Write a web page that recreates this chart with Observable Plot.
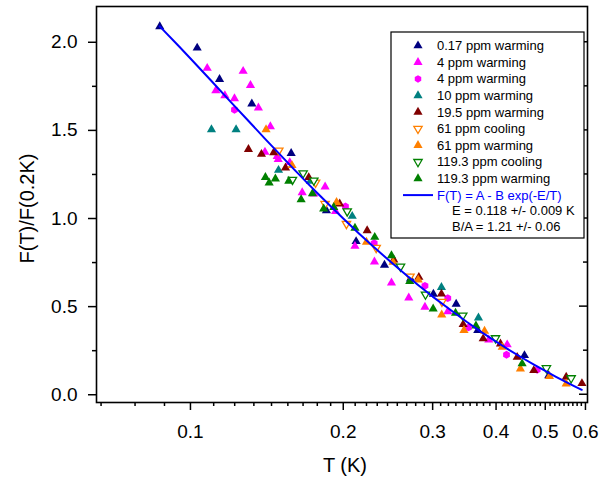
<!DOCTYPE html>
<html><head><meta charset="utf-8">
<script src="https://cdn.jsdelivr.net/npm/d3@7"></script>
<script src="https://cdn.jsdelivr.net/npm/@observablehq/plot@0.6"></script>
<style>
body{margin:0;background:#fff;}
#chart{position:relative;width:613px;height:477px;}
</style>
</head><body><div id="chart"></div>
<script>
// ---------- data (T in K, F(T)/F(0.2K)) ----------
const seriesNames = ["0.17 ppm warming","4 ppm warming","4 ppm warming","10 ppm warming","19.5 ppm warming","61 ppm cooling","61 ppm warming","119.3 ppm cooling","119.3 ppm warming"];

const s017warm = [[0.0870,2.089],[0.1031,1.968],[0.1141,1.790],[0.1321,1.651],[0.1579,1.370],[0.1853,1.045],[0.2120,0.870],[0.2411,0.736],[0.2713,0.658],[0.3010,0.571],[0.3338,0.515],[0.3681,0.365],[0.4550,0.223],[0.5080,0.109]];
const s4warmTri = [[0.1079,1.853],[0.1270,1.836],[0.1313,1.756],[0.1122,1.726],[0.1169,1.698],[0.1221,1.681],[0.1361,1.628],[0.1437,1.522],[0.1402,1.377],[0.1482,1.352],[0.1489,1.336],[0.1569,1.318],[0.1660,1.147],[0.1750,1.140],[0.1842,1.180],[0.1931,1.041],[0.2109,0.843],[0.2304,0.754],[0.2489,0.635],[0.2692,0.550],[0.2897,0.497],[0.3213,0.472],[0.3870,0.312],[0.4207,0.284]];
const s4warmHex = [[0.1221,1.617],[0.2020,1.068],[0.2301,0.860],[0.2897,0.618],[0.3213,0.548],[0.3529,0.382],[0.4194,0.227],[0.4820,0.142]];
const s10warm = [[0.1100,1.505],[0.1230,1.505],[0.1491,1.274],[0.1723,1.212],[0.2083,1.013],[0.3122,0.610],[0.3693,0.436]];
const s195warm = [[0.1301,1.393],[0.1380,1.365],[0.1459,1.374],[0.1539,1.288],[0.1710,1.233],[0.1968,1.083],[0.2229,0.932],[0.2515,0.766],[0.2818,0.667],[0.3122,0.572],[0.3445,0.399],[0.3773,0.318],[0.4081,0.289],[0.4402,0.213],[0.4746,0.138],[0.5498,0.100],[0.5905,0.064]];
const s61cool = [[0.1493,1.386],[0.1764,1.204],[0.1842,1.083],[0.2029,0.970],[0.2322,0.834],[0.2707,0.671],[0.3129,0.528]];
const s61warm = [[0.1409,1.505],[0.1585,1.301],[0.1940,1.092],[0.2222,0.866],[0.2508,0.752],[0.2810,0.652],[0.3126,0.454],[0.3458,0.366],[0.3796,0.361],[0.4113,0.270],[0.4467,0.147],[0.5096,0.104],[0.5498,0.062]];
const s1193cool = [[0.1588,1.220],[0.1667,1.257],[0.1750,1.216],[0.2036,1.041],[0.2593,0.727],[0.2904,0.569],[0.3439,0.450],[0.3990,0.321],[0.5026,0.151],[0.5623,0.094]];
const s1193warm = [[0.1405,1.234],[0.1429,1.202],[0.1470,1.225],[0.1562,1.212],[0.1652,1.107],[0.1739,1.142],[0.1830,1.055],[0.1916,1.064],[0.2109,0.946],[0.2307,0.894],[0.2489,0.790],[0.2704,0.643],[0.3007,0.488],[0.3328,0.463],[0.3651,0.391],[0.4502,0.176]];

// fit curve
const fitT = [0.087,0.095,0.10,0.11,0.12,0.13,0.14,0.15,0.16,0.17,0.18,0.19,0.20,0.215,0.23,0.245,0.26,0.28,0.30,0.325,0.35,0.375,0.40,0.425,0.45,0.475,0.50,0.525,0.55,0.57,0.59];
const fitF = [2.090,1.976,1.908,1.780,1.662,1.555,1.455,1.364,1.279,1.201,1.129,1.062,1.000,0.914,0.837,0.767,0.703,0.626,0.557,0.482,0.414,0.354,0.301,0.253,0.210,0.171,0.135,0.102,0.072,0.0495,0.028];

const fitLabel = "F(T) = A - B exp(-E/T)";
const fitNotes = ["E = 0.118 +/- 0.009 K", "B/A = 1.21 +/- 0.06"];

const xMajorTicks = [0.1,0.2,0.3,0.4,0.5,0.6];
const yMajorTicks = [0,0.5,1,1.5,2];
const yMinorTicks = [0.25,0.75,1.25,1.75];
const xTitle = "T (K)";
const yTitle = "F(T)/F(0.2K)";

// ---------- styling ----------
const W = 613, H = 477;
const mL = 96, mR = 26, mT = 6, mB = 75;
const xDomain = [0.0653, 0.6056];
const yDomain = [-0.044, 2.203];
const FONT = "'Liberation Sans', Arial, Helvetica, sans-serif";

// minor x ticks: 8 per 0.1 interval (Origin style)
const xMinorTicks = [];
for (let m = 0; m < 6; m++) for (let k = 1; k <= 8; k++) {
  const v = 0.1*m + k*0.1/9;
  if (v >= xDomain[0] && v <= xDomain[1]) xMinorTicks.push(v);
}

const triDown = {
  draw(ctx, size) {
    const y = -Math.sqrt(size / (3 * Math.sqrt(3)));
    ctx.moveTo(0, -2 * y);
    ctx.lineTo(-Math.sqrt(3) * y, y);
    ctx.lineTo(Math.sqrt(3) * y, y);
    ctx.closePath();
  }
};

const seriesData = [s017warm, s4warmTri, s4warmHex, s10warm, s195warm, s61cool, s61warm, s1193cool, s1193warm];
const seriesColors = ["#000080","#ff00ff","#ff00ff","#008080","#800000","#ff8000","#ff8000","#008000","#008000"];
const seriesSymbols = ["triangle","triangle","hexagon","triangle","triangle",triDown,"triangle",triDown,"triangle"];
const seriesOpen = [false,false,false,false,false,true,false,true,false];
const seriesR = [3.4,3.4,3.4,3.4,3.4,3.1,3.4,3.1,3.4];

const dotMarks = seriesData.map((arr, i) => {
  const rows = arr.map(([T, F]) => ({T, F, series: seriesNames[i]}));
  return seriesOpen[i]
    ? Plot.dot(rows, {x: "T", y: "F", symbol: () => seriesSymbols[i], r: seriesR[i], fill: "white", stroke: seriesColors[i], strokeWidth: 1.3})
    : Plot.dot(rows, {x: "T", y: "F", symbol: () => seriesSymbols[i], r: seriesR[i], fill: seriesColors[i], stroke: "none"});
});

const fitRows = fitT.map((t, i) => ({T: t, F: fitF[i]}));

const plot = Plot.plot({
  width: W, height: H,
  marginLeft: mL, marginRight: mR, marginTop: mT, marginBottom: mB,
  style: {fontFamily: FONT, fontSize: "19px", color: "black", background: "white", overflow: "visible"},
  x: {type: "log", domain: xDomain},
  y: {domain: yDomain},
  symbol: {type: "identity"},
  marks: [
    Plot.axisX({ticks: xMinorTicks, tickSize: 4, tickFormat: () => "", label: null, strokeWidth: 1.5}),
    Plot.axisX({ticks: xMajorTicks, tickSize: 8, tickPadding: 14, tickFormat: d3.format(".1f"), label: null, strokeWidth: 1.5, fontSize: 19}),
    Plot.axisY({ticks: yMinorTicks, tickSize: 4, tickFormat: () => "", label: null, strokeWidth: 1.5}),
    Plot.axisY({ticks: yMajorTicks, tickSize: 8, tickPadding: 11, tickFormat: d3.format(".1f"), label: null, strokeWidth: 1.5, fontSize: 19}),
    ...dotMarks,
    Plot.line(fitRows, {x: "T", y: "F", stroke: "#0000ff", strokeWidth: 2}),
    Plot.frame({stroke: "black", strokeWidth: 1.6})
  ]
});

document.getElementById("chart").appendChild(plot);

// ---------- extras drawn with the plot's own scales ----------
const svg = d3.select(plot);
const ys = plot.scale("y");
const xR = W - mR;
const g = svg.append("g");
yMajorTicks.forEach(v => g.append("line").attr("x1", xR).attr("x2", xR - 8).attr("y1", ys.apply(v)).attr("y2", ys.apply(v)).attr("stroke", "black").attr("stroke-width", 1.5));
yMinorTicks.forEach(v => g.append("line").attr("x1", xR).attr("x2", xR - 4).attr("y1", ys.apply(v)).attr("y2", ys.apply(v)).attr("stroke", "black").attr("stroke-width", 1.5));

// axis titles
svg.append("text").attr("x", 345).attr("y", 472).attr("text-anchor", "middle")
  .attr("font-family", FONT).attr("font-size", 20).text(xTitle);
svg.append("text").attr("transform", "translate(34,208.5) rotate(-90)").attr("text-anchor", "middle")
  .attr("font-family", FONT).attr("font-size", 20).text(yTitle);

// legend
const lg = svg.append("g").attr("text-anchor", "start");
const LX0 = 391, LY0 = 32, LX1 = 584, LY1 = 238;
lg.append("rect").attr("x", LX0).attr("y", LY0).attr("width", LX1 - LX0).attr("height", LY1 - LY0)
  .attr("fill", "white").attr("stroke", "black").attr("stroke-width", 1.2);
const rowY0 = 45.7, rowStep = 16.6;
const d3sym = s => s === "triangle" ? d3.symbolTriangle : s;
seriesNames.forEach((name, i) => {
  const y = rowY0 + i * rowStep;
  let symObj;
  if (seriesSymbols[i] === "hexagon") {
    symObj = {draw(ctx, size) { const r = Math.sqrt(size / (1.5 * Math.sqrt(3))); for (let k = 0; k < 6; k++) { const a = Math.PI / 3 * k + Math.PI / 6; const px = r * Math.cos(a), py = r * Math.sin(a); k ? ctx.lineTo(px, py) : ctx.moveTo(px, py); } ctx.closePath(); }};
  } else symObj = d3sym(seriesSymbols[i]);
  const path = d3.symbol(symObj, Math.PI * seriesR[i] * seriesR[i])();
  lg.append("path").attr("d", path).attr("transform", `translate(418,${y})`)
    .attr("fill", seriesOpen[i] ? "white" : seriesColors[i])
    .attr("stroke", seriesOpen[i] ? seriesColors[i] : "none").attr("stroke-width", 1.3);
  lg.append("text").attr("x", 437).attr("y", y).attr("dy", "0.35em").attr("text-anchor", "start")
    .attr("font-family", FONT).attr("font-size", 13).text(name);
});
const fy = rowY0 + 9 * rowStep;
lg.append("line").attr("x1", 403).attr("x2", 433).attr("y1", fy).attr("y2", fy).attr("stroke", "#0000ff").attr("stroke-width", 2);
lg.append("text").attr("x", 437).attr("y", fy).attr("dy", "0.35em").attr("text-anchor", "start").attr("font-family", FONT).attr("font-size", 13).attr("fill", "#0000ff").text(fitLabel);
fitNotes.forEach((t, k) => {
  lg.append("text").attr("x", 452).attr("y", fy + 15.5 * (k + 1)).attr("dy", "0.35em").attr("text-anchor", "start").attr("font-family", FONT).attr("font-size", 13).text(t);
});
</script>
</body></html>
